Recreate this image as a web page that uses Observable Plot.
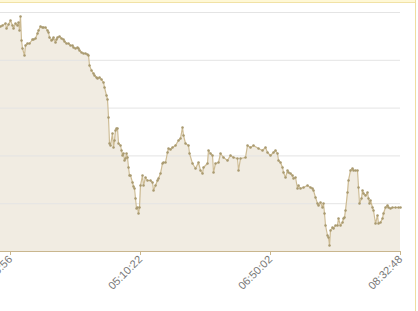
<!DOCTYPE html>
<html>
<head>
<meta charset="utf-8">
<script src="https://cdn.jsdelivr.net/npm/d3@7"></script>
<script src="https://cdn.jsdelivr.net/npm/@observablehq/plot@0.6"></script>
<style>
  html, body { margin: 0; padding: 0; background: #fff; }
  #wrap { position: relative; width: 418px; height: 311px; overflow: hidden; font-family: "Liberation Sans", Arial, sans-serif; }
  #topbar { position: absolute; left: 0; top: 0; width: 416px; height: 2px; background: #fff8d6; border-bottom: 1px solid #f1e2a6; }
  #rightbar { position: absolute; left: 415px; top: 0; width: 1px; height: 311px; background: #efdda0; }
  #chart { position: absolute; left: 0; top: 0; }
</style>
</head>
<body>
<div id="wrap">
  <div id="chart"></div>
  <div id="topbar"></div>
  <div id="rightbar"></div>
</div>
<script>
// sample position (index along the series)
const idx = [0,2,5,6,8,10,12,13,15,17,18,19,20,21,22,24,25,27,29,32,33,35,37,38,40,42,43,45,47,48,49,51,52,53,55,56,57,59,61,63,64,66,68,70,72,73,75,77,78,79,81,83,85,87,88,89,91,93,94,96,97,99,101,103,104,106,107,108,109,110,112,113,114,115,116,117,118,120,121,122,123,124,125,126,127,128,129,130,132,133,134,135,136,137,138,139,140,142,143,145,147,150,152,153,155,157,158,160,162,163,165,167,168,170,172,175,178,180,182,183,185,188,189,192,195,198,200,202,203,207,208,210,212,213,215,218,220,223,227,230,233,237,238,240,245,247,250,253,258,262,265,267,270,273,275,277,278,280,282,283,285,287,288,290,292,293,295,297,298,300,303,307,310,312,313,315,317,318,320,322,323,324,325,327,328,329,330,332,333,335,337,338,340,342,343,344,345,347,348,350,352,353,355,357,358,359,361,362,363,365,367,368,369,370,372,373,375,377,378,380,382,383,385,387,388,390,392,395,398,400];
// series values
const values = [225,226,228,223,227,231,226,223,228,226,229,221,235,211,203,196,206,208,208,212,212,213,218,221,225,224,224,224,221,219,214,211,212,214,209,212,214,215,213,212,210,208,208,206,206,204,203,204,203,201,199,198,198,197,196,186,181,178,176,174,173,174,172,169,164,156,152,134,108,106,118,104,111,121,123,123,108,106,101,96,98,91,93,98,94,84,76,76,69,65,63,53,43,44,38,44,66,76,66,74,71,71,69,61,66,71,73,78,88,89,89,99,103,102,104,106,111,113,124,116,108,106,98,88,83,89,81,78,84,88,101,98,96,79,88,89,98,94,91,96,94,93,81,93,94,106,104,106,103,101,104,99,96,99,101,98,91,89,84,79,74,81,79,78,76,73,74,63,66,63,64,66,64,63,61,54,48,46,49,44,48,38,26,16,14,6,21,24,23,26,26,33,26,29,33,34,41,59,71,81,83,81,81,81,64,48,53,61,58,56,59,53,48,51,44,41,28,36,28,29,33,38,44,46,44,43,44,44,44,44];
// x tick positions and labels
const tickPos = [10, 140, 270, 400];
const tickLabels = ["03:25:56", "05:10:22", "06:50:02", "08:32:48"];
// horizontal grid levels
const gridLevels = [47.8, 95.6, 143.4, 191.2, 239];

const data = idx.map((x, i) => ({x, v: values[i]}));

const chart = Plot.plot({
  width: 418,
  height: 311,
  marginLeft: 0,
  marginRight: 18,
  marginTop: 12,
  marginBottom: 60,
  style: {fontFamily: "'Liberation Sans', Arial, sans-serif", fontSize: "11px", background: "transparent"},
  x: {domain: [0, 400], axis: null},
  y: {domain: [0, 239], axis: null},
  marks: [
    Plot.areaY(data, {x: "x", y: "v", fill: "#f1ece2"}),
    Plot.ruleY(gridLevels, {stroke: "#e4e4e4", strokeWidth: 1}),
    Plot.lineY(data, {x: "x", y: "v", stroke: "#cdbb93", strokeWidth: 1.2}),
    Plot.dot(data, {x: "x", y: "v", r: 1.25, fill: "#a99a70", stroke: "none"}),
    Plot.ruleY([0], {stroke: "#c9b68e", strokeWidth: 1}),
    Plot.axisX({
      ticks: tickPos,
      tickFormat: (d) => tickLabels[tickPos.indexOf(d)],
      tickRotate: -45,
      tickSize: 4,
      tickPadding: 2,
      stroke: "#c9b68e",
      fill: "#777",
      fontSize: 11,
      label: null
    })
  ]
});
document.getElementById("chart").appendChild(chart);
</script>
</body>
</html>
